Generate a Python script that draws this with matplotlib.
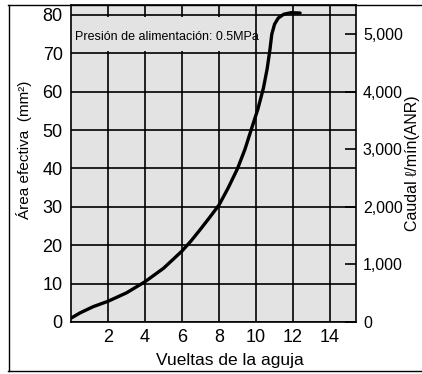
import matplotlib
matplotlib.use("Agg")
import matplotlib.pyplot as plt
from matplotlib import font_manager
from matplotlib.patches import Rectangle
from matplotlib.lines import Line2D

# ---- data ----
turns = [0.0, 0.5, 1.2, 2.0, 3.0, 4.0, 5.0, 6.0, 6.5, 7.0, 7.5, 8.0, 8.5, 9.0, 9.4,
         9.73, 10.1, 10.4, 10.6, 10.75, 10.85, 11.0, 11.2, 11.5, 11.9, 12.38]
area = [1.0, 2.4, 4.0, 5.4, 7.6, 10.5, 14.0, 18.5, 21.2, 24.2, 27.3, 30.5, 35.0, 40.0, 45.0,
        50.0, 55.5, 61.0, 66.0, 71.0, 75.0, 77.6, 79.2, 80.2, 80.6, 80.5]
x_ticks = [2, 4, 6, 8, 10, 12, 14]
y_ticks = [0, 10, 20, 30, 40, 50, 60, 70, 80]
flow_ticks = [0, 1000, 2000, 3000, 4000, 5000]
flow_labels = ["0", "1,000", "2,000", "3,000", "4,000", "5,000"]
flow_per_area = 200 / 3  # l/min (ANR) per mm2

names = {f.name for f in font_manager.fontManager.ttflist}
base = ["Liberation Sans", "DejaVu Sans"]
plt.rcParams["font.family"] = base
narrow = "Liberation Sans Narrow" in names

W, H = 422, 374
fig = plt.figure(figsize=(W / 100, H / 100), dpi=100)
L, R, T, B = 71, 356, 5, 322
ax = fig.add_axes([L / W, 1 - B / H, (R - L) / W, (B - T) / H])
gray = "#e3e3e3"
ax.set_facecolor(gray)

xmax, ymax = 15.4, 82.6
ax.set_xlim(0, xmax)
ax.set_ylim(0, ymax)

ax.set_xticks(x_ticks)
ax.set_yticks(y_ticks)
ax.tick_params(axis="both", length=0, labelsize=13)
ax.tick_params(axis="y", pad=6)
ax.tick_params(axis="x", pad=5)
ax.set_axisbelow(True)
ax.grid(True, color="black", linewidth=1.2)
for s in ax.spines.values():
    s.set_linewidth(1.2)
    s.set_color("black")

ax.plot(turns, area, color="black", linewidth=2.4, solid_capstyle="round",
        solid_joinstyle="round", zorder=3)

# label box
ax.add_patch(Rectangle((0.06, 70.5), 9.8, 9.0, facecolor=gray, edgecolor="none", zorder=1))
if narrow:
    ax.text(0.22, 74.3, "Presión de alimentación: 0.5MPa", family=["Liberation Sans Narrow", "DejaVu Sans"],
            fontsize=10.5, ha="left", va="center", zorder=4)
else:
    ax.text(0.22, 74.3, "Presión de alimentación: 0.5MPa",
            fontsize=9, ha="left", va="center", zorder=4)

ax2 = ax.twinx()
ax2.set_ylim(0, ymax * flow_per_area)
ax2.set_yticks(flow_ticks)
ax2.set_yticklabels(flow_labels)
ax2.tick_params(axis="y", direction="in", length=8, width=1.2, labelsize=11.5, pad=5)
for s in ax2.spines.values():
    s.set_visible(False)

fig.text(230 / W, 1 - 353 / H, "Vueltas de la aguja", fontsize=12.5, ha="center", va="top")
fig.text(24 / W, 1 - 150 / H, "Área efectiva  (mm²)", fontsize=11, rotation=90,
         ha="center", va="center")
fig.text(412 / W, 1 - 163 / H, "Caudal ℓ/mín(ANR)", fontsize=11.5, rotation=90,
         ha="center", va="center")

# figure frame
for (x0, y0, x1, y1) in [(8, 4.5, 422, 4.5), (8.5, 4.5, 8.5, 371), (8, 371, 422, 371)]:
    fig.add_artist(Line2D([x0 / W, x1 / W], [1 - y0 / H, 1 - y1 / H], color="black",
                          linewidth=1.0, transform=fig.transFigure))

fig.savefig("out.png", dpi=100)
